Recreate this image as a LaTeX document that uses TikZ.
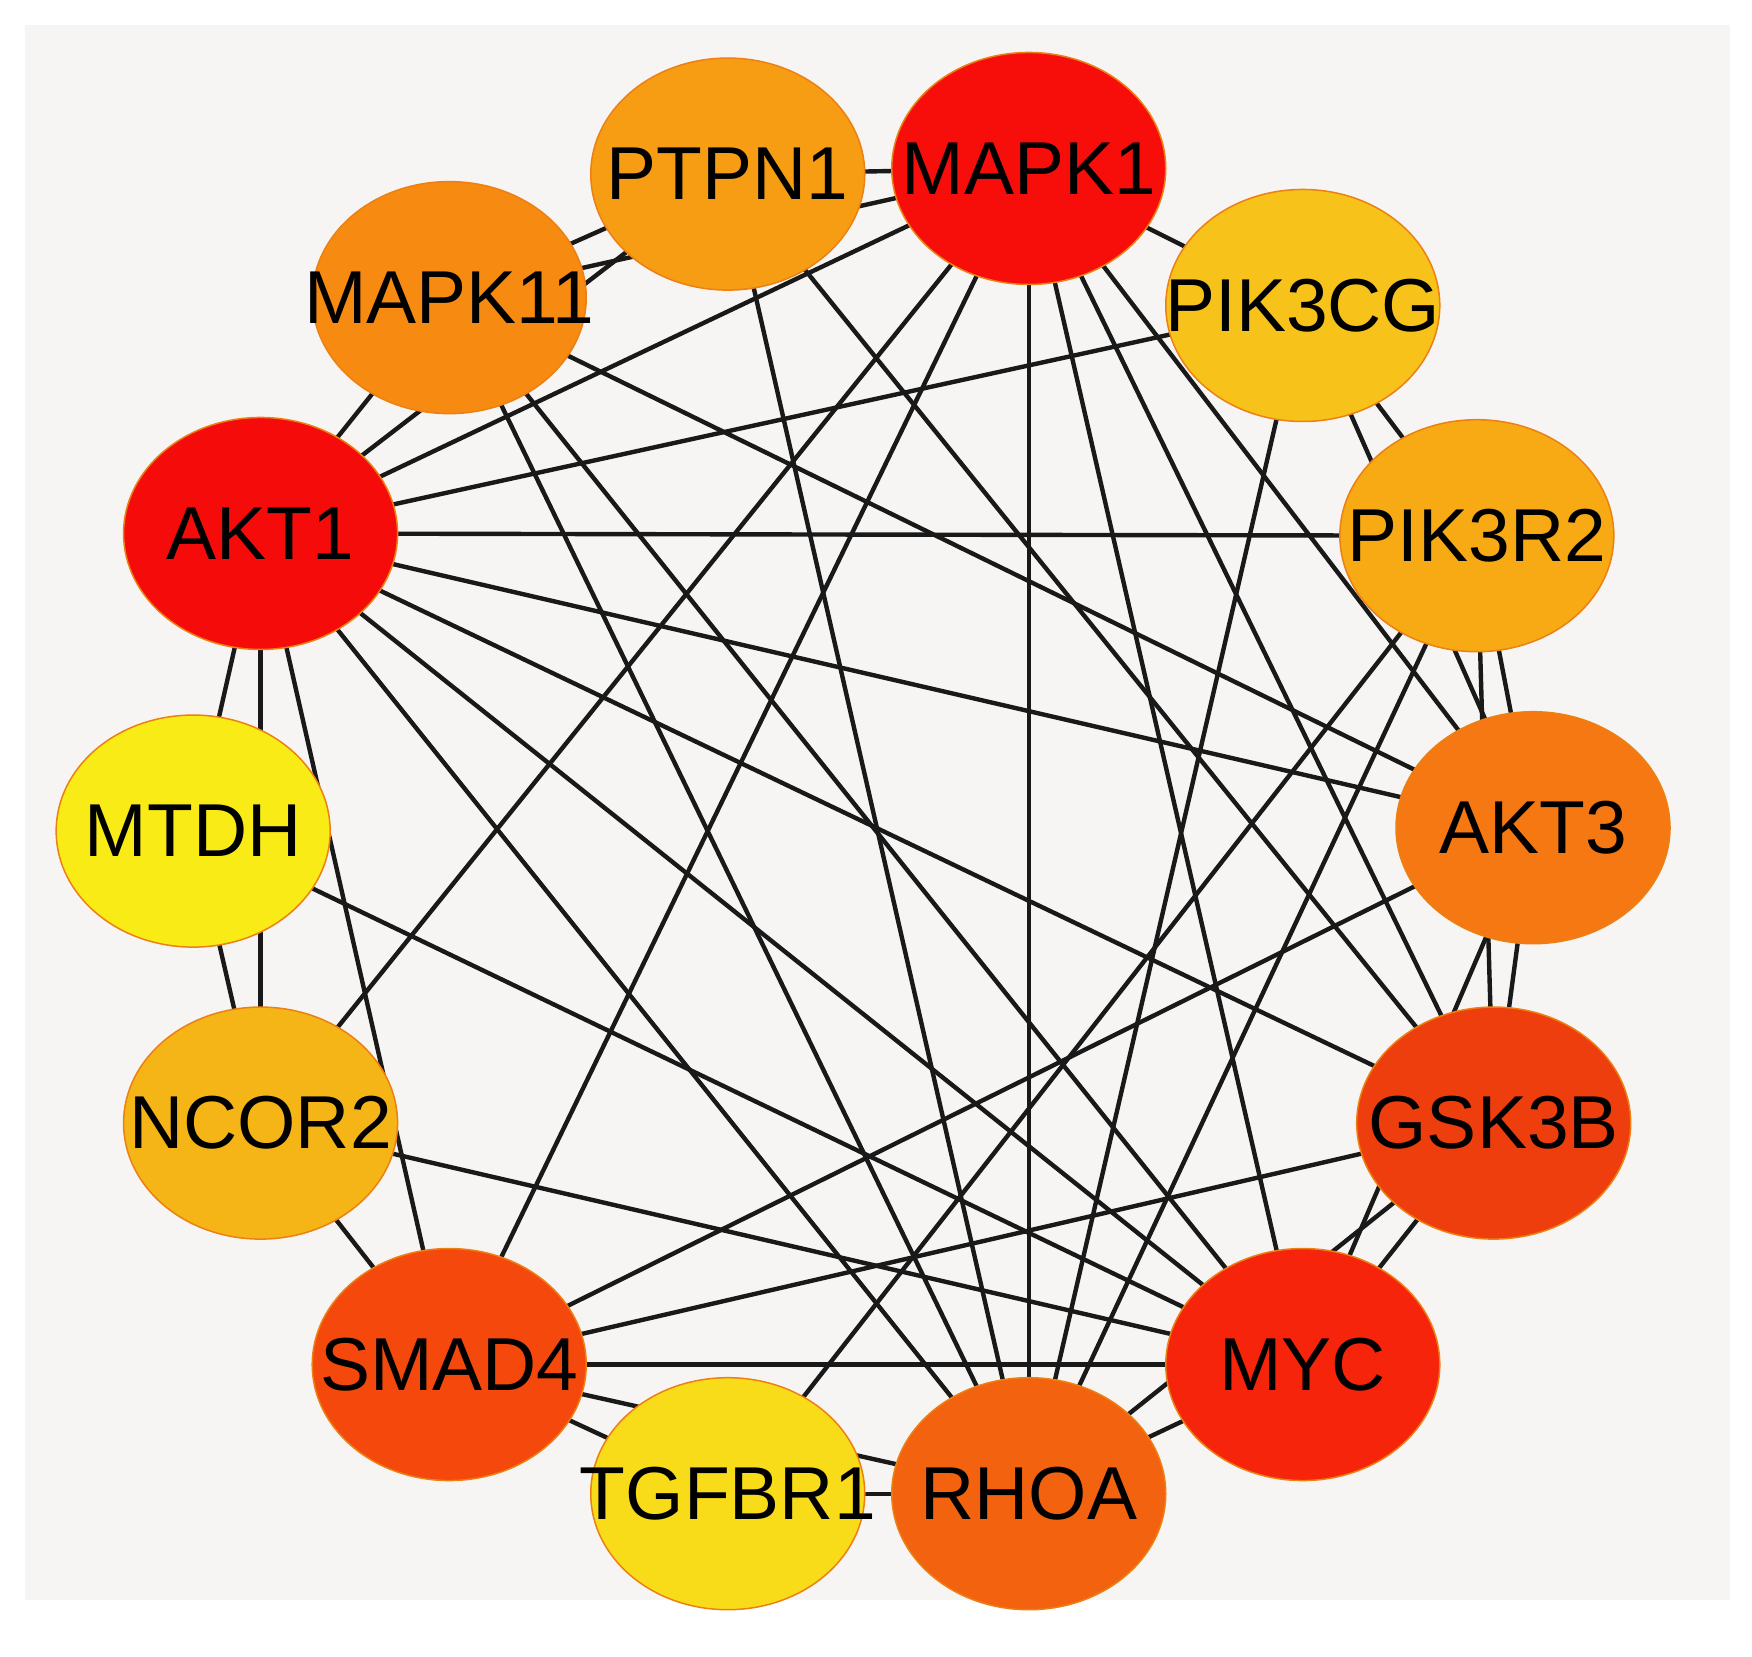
\documentclass[tikz,border=0pt]{standalone}
\usepackage{fontspec}
\setmainfont{Liberation Sans}
\usetikzlibrary{shapes.geometric}
\pgfdeclarelayer{bg}\pgfdeclarelayer{edges}
\pgfsetlayers{bg,edges,main}
\definecolor{cMAPKa}{HTML}{F70E0B}
\definecolor{cAKTa}{HTML}{F50C0A}
\definecolor{cMYC}{HTML}{F5240A}
\definecolor{cGSK}{HTML}{EE3E0E}
\definecolor{cSMAD}{HTML}{F5480C}
\definecolor{cRHOA}{HTML}{F2620F}
\definecolor{cAKTc}{HTML}{F57812}
\definecolor{cMAPKb}{HTML}{F78A10}
\definecolor{cPTPN}{HTML}{F79D14}
\definecolor{cPIKr}{HTML}{F7AA14}
\definecolor{cNCOR}{HTML}{F5B516}
\definecolor{cPIKc}{HTML}{F7C31B}
\definecolor{cTGF}{HTML}{F8DC1A}
\definecolor{cMTDH}{HTML}{F9EC16}
\definecolor{panel}{HTML}{F6F5F3}
\tikzset{
  gene/.style={ellipse, draw=orange!70!brown, line width=1.5pt, minimum width=274pt, minimum height=232pt, inner sep=0pt, font=\fontsize{75}{75}\selectfont},
  link/.style={line width=4.4pt, black!90}
}
\newcommand{\gn}[1]{\raisebox{-6pt}{\makebox[0pt]{#1}}}
\begin{document}
\begin{tikzpicture}[x=1.123pt,y=-1.123pt]
\useasboundingbox (0,0) rectangle (1560,1475);
\begin{pgfonlayer}{bg}
\fill[white] (0,0) rectangle (1560,1475);
\fill[panel] (22,22) rectangle (1540,1425);
\end{pgfonlayer}
\node[gene, fill=cPTPN]  (PTPN1)  at (648,155)  {\gn{PTPN1}};
\node[gene, fill=cMAPKa] (MAPK1)  at (916,150)  {\gn{MAPK1}};
\node[gene, fill=cMAPKb] (MAPK11) at (400,265)  {\gn{MAPK11}};
\node[gene, fill=cPIKc]  (PIK3CG) at (1160,272) {\gn{PIK3CG}};
\node[gene, fill=cAKTa]  (AKT1)   at (232,475)  {\gn{AKT1}};
\node[gene, fill=cPIKr]  (PIK3R2) at (1315,477) {\gn{PIK3R2}};
\node[gene, fill=cMTDH]  (MTDH)   at (172,740)  {\gn{MTDH}};
\node[gene, fill=cAKTc]  (AKT3)   at (1365,737) {\gn{AKT3}};
\node[gene, fill=cNCOR]  (NCOR2)  at (232,1000) {\gn{NCOR2}};
\node[gene, fill=cGSK]   (GSK3B)  at (1330,1000){\gn{GSK3B}};
\node[gene, fill=cSMAD]  (SMAD4)  at (400,1215) {\gn{SMAD4}};
\node[gene, fill=cMYC]   (MYC)    at (1160,1215){\gn{MYC}};
\node[gene, fill=cTGF]   (TGFBR1) at (648,1330) {\gn{TGFBR1}};
\node[gene, fill=cRHOA]  (RHOA)   at (916,1330) {\gn{RHOA}};
\begin{pgfonlayer}{edges}
\foreach \a/\b in {
 PTPN1/MAPK1, PTPN1/MAPK11, MAPK11/MAPK1, MAPK1/PIK3CG, MAPK1/AKT1, MAPK1/NCOR2,
 MAPK1/SMAD4, MAPK1/RHOA, MAPK1/MYC, MAPK1/GSK3B, MAPK1/AKT3,
 PTPN1/GSK3B, PTPN1/RHOA, PTPN1/AKT1,
 MAPK11/AKT1, MAPK11/AKT3, MAPK11/RHOA, MAPK11/MYC,
 AKT1/PIK3CG, AKT1/PIK3R2, AKT1/AKT3, AKT1/GSK3B, AKT1/MYC, AKT1/RHOA,
 AKT1/MTDH, AKT1/NCOR2, AKT1/SMAD4,
 MTDH/NCOR2, MTDH/MYC,
 NCOR2/SMAD4, NCOR2/MYC,
 SMAD4/AKT3, SMAD4/GSK3B, SMAD4/MYC, SMAD4/TGFBR1, SMAD4/RHOA,
 TGFBR1/RHOA, TGFBR1/PIK3R2,
 PIK3CG/PIK3R2, PIK3CG/AKT3, PIK3CG/RHOA,
 PIK3R2/AKT3, PIK3R2/GSK3B, PIK3R2/RHOA,
 AKT3/GSK3B, AKT3/MYC, GSK3B/MYC, GSK3B/RHOA, MYC/RHOA}
 \draw[link] (\a.center) -- (\b.center);
\end{pgfonlayer}
\end{tikzpicture}
\end{document}
